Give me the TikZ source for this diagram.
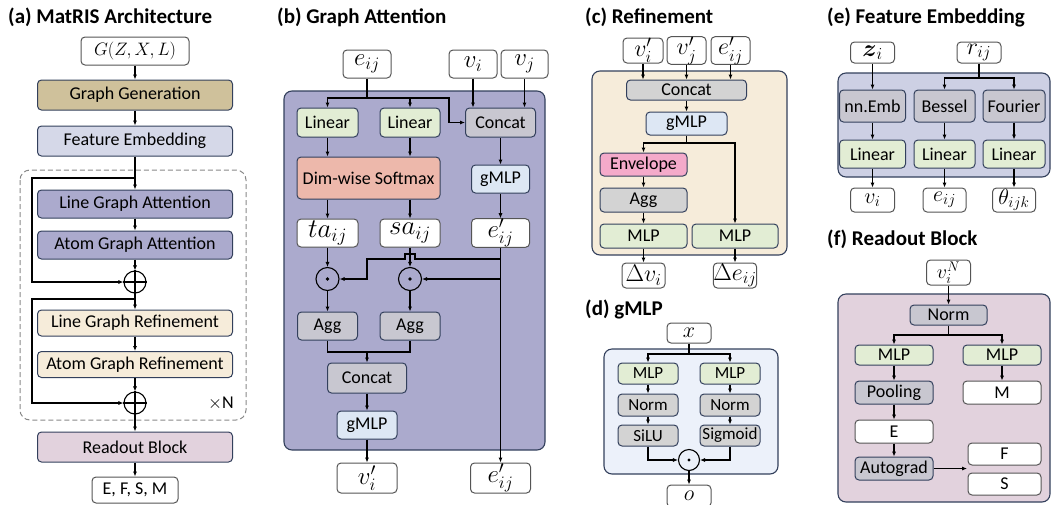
\RequirePackage{fix-cm}
\documentclass[tikz,border=0pt]{standalone}
\usepackage{amsmath}
\usepackage{fontspec}
\setmainfont{Carlito}
\usetikzlibrary{arrows.meta,calc}
\definecolor{cgen}{HTML}{CFC19B}
\definecolor{cfe}{HTML}{D5D8E8}
\definecolor{catt}{HTML}{ABAACD}
\definecolor{cref}{HTML}{F6ECDA}
\definecolor{cread}{HTML}{E2D2DD}
\definecolor{clin}{HTML}{E2EDD4}
\definecolor{cgray}{HTML}{C8C7D0}
\definecolor{cgray2}{HTML}{D3D3D3}
\definecolor{csm}{HTML}{EDB8AB}
\definecolor{cgm}{HTML}{DDE7F4}
\definecolor{cenv}{HTML}{F4AACA}
\definecolor{cgbg}{HTML}{ECF1FA}
\definecolor{cebg}{HTML}{CDD0E4}
\definecolor{bordc}{HTML}{33405C}
\definecolor{wbord}{HTML}{555555}
\definecolor{dashc}{HTML}{888888}
\begin{document}
\begin{tikzpicture}[x=1pt,y=-1pt,
 box/.style={draw=bordc,line width=1pt,rounded corners=4pt,inner sep=0pt,font=\fontsize{18}{20}\selectfont},
 dbox/.style={box,font=\fontsize{17}{19}\selectfont},
 wbox/.style={box,draw=wbord,fill=white},
 mbox/.style={wbox,font=\fontsize{#1}{#1}\selectfont},
 wh/.style 2 args={minimum width=#1pt,minimum height=#2pt},
 arr/.style={-{Latex[length=5pt,width=4.2pt]},line width=1.1pt},
 ln/.style={line width=1.1pt},
 panel/.style={draw=bordc,line width=1.1pt,rounded corners=8pt},
 ttl/.style={anchor=base west,inner sep=0pt,font=\bfseries\fontsize{21}{23}\selectfont},
 opc/.style={circle,draw,line width=1.1pt,inner sep=0pt,minimum size=#1pt}
]
\useasboundingbox (0,0) rectangle (1052,504);

% ---------------- (a) ----------------
\node[ttl] (tA) at (8,23) {(a) MatRIS Architecture};
\draw[dashc,line width=1pt,dash pattern=on 5pt off 3pt,rounded corners=10pt] (20,170) rectangle (246,420);
\node[mbox=18,wh={108}{28}] (aG) at (135,51) {$G(Z,X,L)$};
\node[box,fill=cgen,wh={195}{30}] (aGen) at (135,95) {Graph Generation};
\node[box,fill=cfe,wh={195}{30}] (aFE) at (135,141) {Feature Embedding};
\node[box,fill=catt,wh={195}{28}] (aLGA) at (135,204) {Line Graph Attention};
\node[box,fill=catt,wh={195}{28}] (aAGA) at (135,245) {Atom Graph Attention};
\node[opc=22] (aP1) at (135,282) {};
\node[box,fill=cref,wh={195}{26}] (aLGR) at (135,323) {Line Graph Refinement};
\node[box,fill=cref,wh={195}{26}] (aAGR) at (135,364.5) {Atom Graph Refinement};
\node[opc=22] (aP2) at (135,403) {};
\node[font=\fontsize{18}{20}\selectfont,inner sep=0pt] (aN) at (221,403) {$\times$N};
\node[box,fill=cread,wh={195}{30}] (aRB) at (135,447) {Readout Block};
\node[wbox,wh={86}{26}] (aOut) at (135,490) {E, F, S, M};
\draw[ln] (aP1.north) -- (aP1.south) (aP1.west) -- (aP1.east);
\draw[ln] (aP2.north) -- (aP2.south) (aP2.west) -- (aP2.east);
\coordinate (aJ1) at (135,178); \coordinate (aC1) at (32,178);
\coordinate (aJ2) at (135,299); \coordinate (aC2) at (32,299);
\draw[arr] (aG) -- (aGen);
\draw[arr] (aGen) -- (aFE);
\draw[arr] (aFE) -- (aLGA);
\draw[arr] (aLGA) -- (aAGA);
\draw[arr] (aAGA) -- (aP1);
\draw[arr] (aJ1) -- (aC1) |- (aP1);
\draw[arr] (aP1) -- (aLGR);
\draw[arr] (aLGR) -- (aAGR);
\draw[arr] (aAGR) -- (aP2);
\draw[arr] (aJ2) -- (aC2) |- (aP2);
\draw[arr] (aP2) -- (aRB);
\draw[arr] (aRB) -- (aOut);

% ---------------- (b) ----------------
\node[ttl] (tB) at (277,23) {(b) Graph Attention};
\draw[panel,fill=catt] (284,91) rectangle (545,450);
\node[mbox=25,wh={48}{28}] (bE) at (367,64) {$e_{ij}$};
\node[mbox=25,wh={48}{28}] (bVi) at (473,64) {$v_i$};
\node[mbox=25,wh={47}{28}] (bVj) at (524.5,64) {$v_j$};
\node[box,fill=clin,wh={61}{29}] (bL1) at (327.5,122.5) {Linear};
\node[box,fill=clin,wh={60}{29}] (bL2) at (410,122.5) {Linear};
\node[box,fill=cgray,wh={70}{29}] (bCat) at (500.5,122.5) {Concat};
\node[box,fill=csm,wh={143}{42}] (bSM) at (368.5,178) {Dim-wise Softmax};
\node[box,fill=cgm,wh={58}{28}] (bG) at (500.5,179) {gMLP};
\node[mbox=27,wh={61}{28}] (bTa) at (327.5,233) {$ta_{ij}$};
\node[mbox=27,wh={60}{28}] (bSa) at (410,233) {$sa_{ij}$};
\node[mbox=25,wh={58}{28}] (bEp) at (500.5,233) {$e'_{ij}$};
\node[opc=23] (bD1) at (327.5,279) {};
\node[opc=23] (bD2) at (410,279) {};
\fill (bD1.center) circle (1.8);
\fill (bD2.center) circle (1.8);
\node[box,fill=cgray,wh={60}{28}] (bA1) at (327.5,326) {Agg};
\node[box,fill=cgray,wh={60}{28}] (bA2) at (410,326) {Agg};
\node[box,fill=cgray,wh={79}{30}] (bCat2) at (367,378) {Concat};
\node[box,fill=cgm,wh={60}{28}] (bG2) at (367,425) {gMLP};
\node[mbox=25,wh={60}{30}] (bVo) at (367,478) {$v'_i$};
\node[mbox=25,wh={60}{30}] (bEo) at (500.5,478) {$e'_{ij}$};
\coordinate (bJ) at (367,98); \coordinate (bK) at (449,98);
\draw[ln] (bE) -- (bJ);
\draw[arr] (bJ) -| (bL1);
\draw[arr] (bJ) -| (bL2);
\draw[arr] (bJ) -- (bK) |- (bCat);
\draw[arr] (bVi) -- (bVi |- bCat.north);
\draw[arr] (bVj) -- (bVj |- bCat.north);
\draw[arr] (bL1) -- (bL1 |- bSM.north);
\draw[arr] (bL2) -- (bL2 |- bSM.north);
\draw[arr] (bL1 |- bSM.south) -- (bTa);
\draw[arr] (bL2 |- bSM.south) -- (bSa);
\draw[arr] (bCat) -- (bG);
\draw[arr] (bG) -- (bEp);
\draw[arr] (bEp) -- (bEo);
\draw[arr] (bTa) -- (bD1);
\draw[arr] (bSa) -- (bD2);
\coordinate (bB1) at (500.5,259); \coordinate (bB2) at (367,259); \coordinate (bB3) at (500.5,279);
\draw[arr] (bB1) -- ([xshift=5pt]bSa.south |- bB1) -- ++(0,-5) -- ++(-10,0) -- ++(0,5) -- (bB2) |- (bD1);
\draw[arr] (bB3) -- (bD2);
\draw[arr] (bD1) -- (bA1);
\draw[arr] (bD2) -- (bA2);
\coordinate (bJ2) at (367,352);
\draw[ln] (bA1) |- (bJ2) -| (bA2);
\draw[arr] (bJ2) -- (bCat2);
\draw[arr] (bCat2) -- (bG2);
\draw[arr] (bG2) -- (bVo);

% ---------------- (c) ----------------
\node[ttl] (tC) at (585,23) {(c) Refinement};
\draw[panel,fill=cref] (592,71) rectangle (787,255);
\node[mbox=24,wh={40}{25}] (cVi) at (643,50.5) {$v'_i$};
\node[mbox=24,wh={39}{25}] (cVj) at (686.5,50.5) {$v'_j$};
\node[mbox=24,wh={39}{25}] (cE) at (730.5,50.5) {$e'_{ij}$};
\node[box,fill=cgray2,wh={120}{20}] (cCat) at (686.5,90) {Concat};
\node[box,fill=cgm,wh={81}{23}] (cG) at (686.5,123.5) {gMLP};
\node[box,fill=cenv,wh={87}{23}] (cEnv) at (643.5,164.5) {Envelope};
\node[box,fill=cgray2,wh={87}{24}] (cAgg) at (643.5,200) {Agg};
\node[box,fill=clin,wh={87}{24}] (cM1) at (643.5,236) {MLP};
\node[box,fill=clin,wh={86}{24}] (cM2) at (735,236) {MLP};
\node[mbox=24,wh={43}{25}] (cDv) at (643.5,275.5) {$\Delta v_i$};
\node[mbox=24,wh={43}{25}] (cDe) at (735,275.5) {$\Delta e_{ij}$};
\draw[arr] (cVi) -- (cVi |- cCat.north);
\draw[arr] (cVj) -- (cVj |- cCat.north);
\draw[arr] (cE) -- (cE |- cCat.north);
\draw[arr] (cCat) -- (cG);
\coordinate (cJ) at (686.5,143);
\draw[ln] (cG) -- (cJ);
\draw[arr] (cJ) -| (cEnv);
\draw[arr] (cJ) -| (cM2);
\draw[arr] (cEnv) -- (cAgg);
\draw[arr] (cAgg) -- (cM1);
\draw[arr] (cM1) -- (cDv);
\draw[arr] (cM2) -- (cDe);

% ---------------- (d) ----------------
\node[ttl] (tD) at (585,315) {(d) gMLP};
\draw[panel,fill=cgbg] (604,349) rectangle (778,474);
\node[mbox=22,wh={44}{20}] (dX) at (689,333) {$x$};
\node[dbox,fill=clin,wh={60}{21}] (dM1) at (648,373.5) {MLP};
\node[dbox,fill=clin,wh={60}{21}] (dM2) at (730,373.5) {MLP};
\node[dbox,fill=cgray2,wh={60}{22}] (dN1) at (648,405) {Norm};
\node[dbox,fill=cgray2,wh={60}{22}] (dN2) at (730,405) {Norm};
\node[dbox,fill=cgray2,wh={60}{21}] (dS1) at (648,435.5) {SiLU};
\node[dbox,fill=cgray2,wh={60}{21}] (dS2) at (730,435.5) {Sigmoid};
\node[opc=21] (dO) at (689,460) {};
\fill (dO.center) circle (1.7);
\node[mbox=22,wh={44}{22}] (dOut) at (689,496) {$o$};
\coordinate (dJ) at (689,354);
\draw[ln] (dX) -- (dJ);
\draw[arr] (dJ) -| (dM1);
\draw[arr] (dJ) -| (dM2);
\draw[arr] (dM1) -- (dN1);
\draw[arr] (dN1) -- (dS1);
\draw[arr] (dM2) -- (dN2);
\draw[arr] (dN2) -- (dS2);
\draw[arr] (dS1) |- (dO);
\draw[arr] (dS2) |- (dO);
\draw[arr] (dO) -- (dOut);

% ---------------- (e) ----------------
\node[ttl] (tE) at (827,23) {(e) Feature Embedding};
\draw[panel,fill=cebg] (838,73) rectangle (1050,177);
\node[mbox=24,wh={44}{21}] (eZ) at (872.5,52.5) {$\boldsymbol{z}_i$};
\node[mbox=24,wh={44}{21}] (eR) at (979,52.5) {$r_{ij}$};
\node[box,fill=cgray,wh={66}{32}] (eNE) at (872.5,106) {nn.Emb};
\node[box,fill=cgray,wh={61}{32}] (eBe) at (944.5,106) {Bessel};
\node[box,fill=cgray,wh={62}{32}] (eFo) at (1014,106) {Fourier};
\node[box,fill=clin,wh={66}{28}] (eL1) at (872.5,154) {Linear};
\node[box,fill=clin,wh={61}{28}] (eL2) at (944.5,154) {Linear};
\node[box,fill=clin,wh={62}{28}] (eL3) at (1014,154) {Linear};
\node[mbox=22,wh={44}{24}] (eV) at (872.5,200) {$v_i$};
\node[mbox=22,wh={43}{24}] (eE) at (944.5,200) {$e_{ij}$};
\node[mbox=22,wh={43}{24}] (eT) at (1014,200) {$\theta_{ijk}$};
\draw[arr] (eZ) -- (eNE);
\coordinate (eJ) at (979,78);
\draw[ln] (eR) -- (eJ);
\draw[arr] (eJ) -| (eBe);
\draw[arr] (eJ) -| (eFo);
\draw[arr] (eNE) -- (eL1);
\draw[arr] (eBe) -- (eL2);
\draw[arr] (eFo) -- (eL3);
\draw[arr] (eL1) -- (eV);
\draw[arr] (eL2) -- (eE);
\draw[arr] (eL3) -- (eT);

% ---------------- (f) ----------------
\node[ttl] (tF) at (827,245) {(f) Readout Block};
\draw[panel,fill=cread] (838,294) rectangle (1050,502);
\node[mbox=20,wh={44}{25}] (fV) at (948.5,272.5) {$v_i^N$};
\node[box,fill=cgray,wh={77}{20}] (fN) at (948.5,315) {Norm};
\node[box,fill=clin,wh={78}{20}] (fM1) at (894,355) {MLP};
\node[box,fill=clin,wh={78}{20}] (fM2) at (1002,355) {MLP};
\node[box,fill=cgray,wh={78}{23}] (fP) at (894,392.5) {Pooling};
\node[wbox,wh={78}{23}] (fMo) at (1002,392.5) {M};
\node[wbox,wh={78}{23}] (fE) at (894,431.5) {E};
\node[box,fill=cgray,wh={78}{23}] (fA) at (894,468.5) {Autograd};
\node[wbox,wh={73}{22}] (fF) at (1004.5,454) {F};
\node[wbox,wh={73}{22}] (fS) at (1004.5,484) {S};
\draw[arr] (fV) -- (fN);
\coordinate (fJ) at (948.5,335);
\draw[ln] (fN) -- (fJ);
\draw[arr] (fJ) -| (fM1);
\draw[arr] (fJ) -| (fM2);
\draw[arr] (fM1) -- (fP);
\draw[arr] (fP) -- (fE);
\draw[arr] (fE) -- (fA);
\draw[arr] (fM2) -- (fMo);
\coordinate (fT) at (967,468.5);
\draw[arr] (fA) -- (fT);
\end{tikzpicture}
\end{document}
